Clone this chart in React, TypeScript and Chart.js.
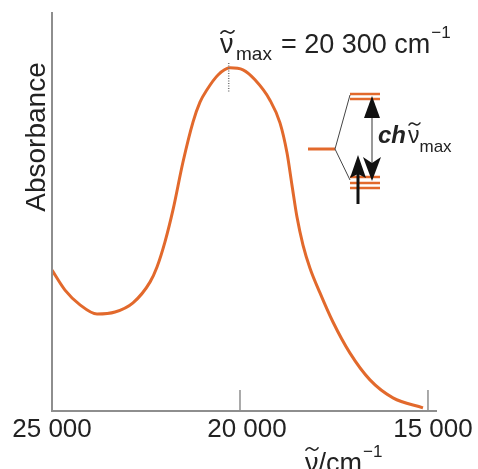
import React, { useEffect, useRef } from "react";
import { Chart, registerables } from "chart.js";

Chart.register(...registerables);

const WAVENUMBERS = [
  25000, 24654, 24255, 23803, 23324, 22846, 22394, 22207, 21995, 21782, 21516,
  21250, 21064, 20878, 20585, 20266, 19920, 19601, 19202, 18936, 18750, 18617,
  18484, 18324, 18138, 17872, 17527, 17074, 16543, 15931, 15133,
];
const ABSORBANCE = [
  0.353, 0.303, 0.266, 0.243, 0.248, 0.271, 0.323, 0.361, 0.424, 0.504, 0.624,
  0.724, 0.774, 0.805, 0.842, 0.86, 0.855, 0.83, 0.779, 0.722, 0.647, 0.566,
  0.486, 0.416, 0.358, 0.296, 0.223, 0.145, 0.078, 0.033, 0.008,
];
const X_TICKS = [25000, 20000, 15000];
const X_TICK_LABELS = ["25 000", "20 000", "15 000"];
const X_LABEL_SHIFT = [0, 7, 5];
const NU_MAX = 20300;
const NU_MAX_LABEL = "= 20 300 cm";
const X_MIN = 14760;
const X_MAX = 25000;

const ORANGE = "#e2692c";
const AXIS = "#8e8e8e";
const TEXT = "#222222";
const FONT = "'Liberation Sans', Arial, Helvetica, sans-serif";

function tilde(ctx: CanvasRenderingContext2D, x0: number, y: number, w: number, h: number, lw: number) {
  ctx.save();
  ctx.strokeStyle = TEXT;
  ctx.lineWidth = lw;
  ctx.lineCap = "round";
  ctx.beginPath();
  ctx.moveTo(x0, y + h * 0.3);
  ctx.bezierCurveTo(x0 + w * 0.2, y - h * 0.7, x0 + w * 0.4, y - h * 0.2, x0 + w * 0.5, y);
  ctx.bezierCurveTo(x0 + w * 0.6, y + h * 0.2, x0 + w * 0.8, y + h * 0.7, x0 + w, y - h * 0.3);
  ctx.stroke();
  ctx.restore();
}

const overlay = {
  id: "overlay",
  afterDraw(chart: any) {
    const ctx = chart.ctx as CanvasRenderingContext2D;
    const xs = chart.scales.x;
    const { left, right, top, bottom } = chart.chartArea;
    ctx.save();
    // axes
    ctx.strokeStyle = AXIS;
    ctx.lineWidth = 2;
    ctx.beginPath();
    ctx.moveTo(left, top);
    ctx.lineTo(left, bottom);
    ctx.lineTo(right, bottom);
    ctx.stroke();
    // inner ticks
    ctx.lineWidth = 1.5;
    X_TICKS.forEach((v) => {
      const px = xs.getPixelForValue(v);
      if (Math.abs(px - left) < 2) return;
      ctx.beginPath();
      ctx.moveTo(px, bottom);
      ctx.lineTo(px, bottom - 21);
      ctx.stroke();
    });
    // tick labels
    ctx.fillStyle = TEXT;
    ctx.font = `26px ${FONT}`;
    ctx.textAlign = "center";
    ctx.textBaseline = "alphabetic";
    X_TICKS.forEach((v, i) => {
      const px = xs.getPixelForValue(v);
      ctx.fillText(X_TICK_LABELS[i], px + X_LABEL_SHIFT[i], bottom + 26);
    });
    // x title
    ctx.textAlign = "left";
    ctx.font = `27px ${FONT}`;
    ctx.fillText("\u03BD/cm", 305, 472);
    tilde(ctx, 306, 449, 12, 4, 1.6);
    let w = ctx.measureText("\u03BD/cm").width;
    ctx.font = `17px ${FONT}`;
    ctx.fillText("\u22121", 305 + w + 1, 457);
    // y title
    ctx.save();
    ctx.translate(45, 137);
    ctx.rotate(-Math.PI / 2);
    ctx.textAlign = "center";
    ctx.textBaseline = "alphabetic";
    ctx.font = `28px ${FONT}`;
    ctx.fillText("Absorbance", 0, 0);
    ctx.restore();
    // dotted line at nu max
    const pm = xs.getPixelForValue(NU_MAX);
    ctx.strokeStyle = "#777";
    ctx.lineWidth = 1.5;
    ctx.setLineDash([1, 1.5]);
    ctx.beginPath();
    ctx.moveTo(pm, 63);
    ctx.lineTo(pm, 93);
    ctx.stroke();
    ctx.setLineDash([]);
    // title annotation
    ctx.fillStyle = TEXT;
    ctx.textAlign = "left";
    ctx.font = `27px ${FONT}`;
    ctx.fillText("\u03BD", 220, 53);
    tilde(ctx, 221, 32, 13, 4, 1.7);
    ctx.font = `19px ${FONT}`;
    ctx.fillText("max", 236, 60);
    ctx.font = `27px ${FONT}`;
    ctx.fillText(NU_MAX_LABEL, 281, 53);
    w = ctx.measureText(NU_MAX_LABEL).width;
    ctx.font = `17px ${FONT}`;
    ctx.fillText("\u22121", 281 + w + 1, 38);

    // energy diagram
    ctx.strokeStyle = ORANGE;
    ctx.lineWidth = 3;
    ctx.beginPath();
    ctx.moveTo(308, 149);
    ctx.lineTo(335, 149);
    ctx.stroke();
    ctx.lineWidth = 2.5;
    [94, 99].forEach((y) => {
      ctx.beginPath();
      ctx.moveTo(350, y);
      ctx.lineTo(380, y);
      ctx.stroke();
    });
    [177, 183, 188].forEach((y) => {
      ctx.beginPath();
      ctx.moveTo(350, y);
      ctx.lineTo(380, y);
      ctx.stroke();
    });
    ctx.strokeStyle = "#444";
    ctx.lineWidth = 1;
    ctx.beginPath();
    ctx.moveTo(335, 149);
    ctx.lineTo(350, 95);
    ctx.moveTo(335, 149);
    ctx.lineTo(350, 180);
    ctx.stroke();
    // transition arrow
    ctx.strokeStyle = "#777";
    ctx.lineWidth = 1.5;
    ctx.beginPath();
    ctx.moveTo(372, 110);
    ctx.lineTo(372, 170);
    ctx.stroke();
    ctx.fillStyle = "#111";
    ctx.beginPath();
    ctx.moveTo(372, 96);
    ctx.lineTo(380, 118);
    ctx.lineTo(364, 118);
    ctx.closePath();
    ctx.fill();
    ctx.beginPath();
    ctx.moveTo(372, 181);
    ctx.lineTo(381, 157);
    ctx.lineTo(372, 163);
    ctx.lineTo(363, 157);
    ctx.closePath();
    ctx.fill();
    // electron arrow
    ctx.strokeStyle = "#111";
    ctx.lineWidth = 3;
    ctx.beginPath();
    ctx.moveTo(358, 204);
    ctx.lineTo(358, 170);
    ctx.stroke();
    ctx.beginPath();
    ctx.moveTo(358, 155);
    ctx.lineTo(366, 178);
    ctx.lineTo(358, 174);
    ctx.lineTo(350, 178);
    ctx.closePath();
    ctx.fill();
    // label
    ctx.fillStyle = TEXT;
    ctx.font = `italic bold 24px ${FONT}`;
    ctx.fillText("ch", 378, 143);
    w = ctx.measureText("ch").width;
    ctx.font = `23px ${FONT}`;
    ctx.fillText("\u03BD", 378 + w + 2, 143);
    tilde(ctx, 378 + w + 3, 124, 11, 3.5, 1.5);
    const w2 = ctx.measureText("\u03BD").width;
    ctx.font = `17px ${FONT}`;
    ctx.fillText("max", 378 + w + 2 + w2, 152);
    ctx.restore();
  },
};

export default function App() {
  const ref = useRef<HTMLCanvasElement | null>(null);
  useEffect(() => {
    if (!ref.current) return;
    const chart = new Chart(ref.current, {
      type: "line",
      data: {
        datasets: [
          {
            data: WAVENUMBERS.map((x, i) => ({ x, y: ABSORBANCE[i] })),
            borderColor: ORANGE,
            borderWidth: 3,
            pointRadius: 0,
            fill: false,
            cubicInterpolationMode: "monotone",
          },
        ],
      },
      options: {
        responsive: false,
        animation: false,
        devicePixelRatio: 1,
        layout: { padding: { left: 52, right: 41, top: 12, bottom: 58 } },
        plugins: { legend: { display: false }, tooltip: { enabled: false } },
        scales: {
          x: { type: "linear", reverse: true, min: X_MIN, max: X_MAX, display: false },
          y: { type: "linear", min: 0, max: 1, display: false },
        },
      },
      plugins: [overlay],
    });
    return () => chart.destroy();
  }, []);
  return (
    <div style={{ position: "absolute", left: 0, top: 0, width: 478, height: 469, background: "#fff" }}>
      <canvas ref={ref} width={478} height={469} style={{ display: "block" }} />
    </div>
  );
}
